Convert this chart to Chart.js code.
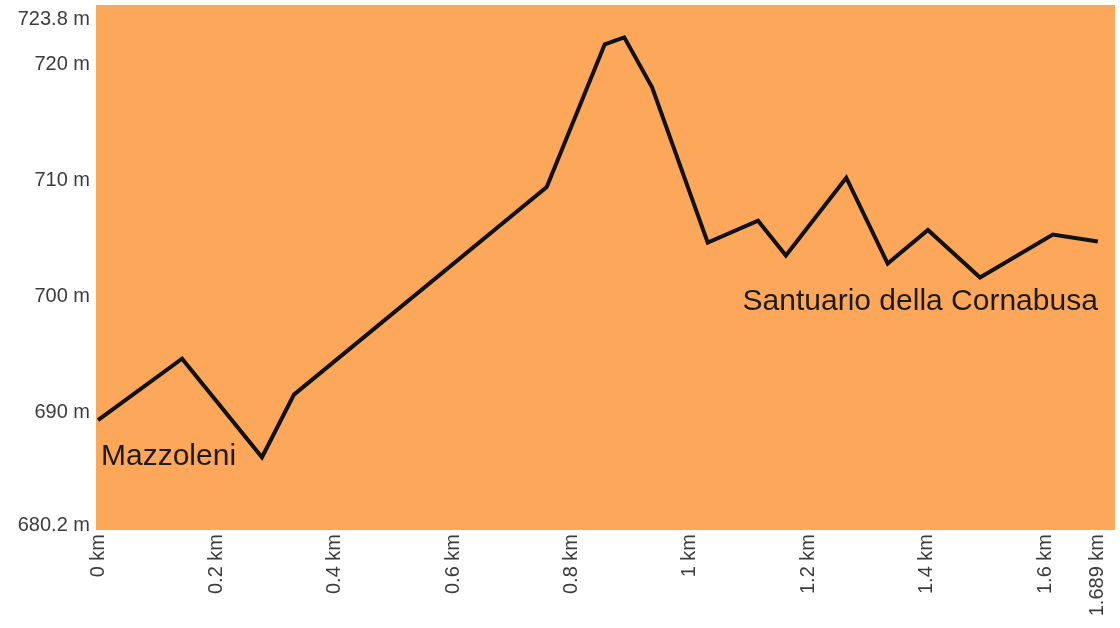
<!DOCTYPE html>
<html>
<head>
<meta charset="utf-8">
<script src="https://cdn.jsdelivr.net/npm/chart.js@4.4.1/dist/chart.umd.min.js"></script>
<style>
  html, body { margin: 0; padding: 0; background: #fff; }
  #wrap { width: 1120px; height: 628px; }
</style>
</head>
<body>
<div id="wrap"><canvas id="profile"></canvas></div>
<script>
// elevation profile, distance in km, elevation in m
const distKm = [0, 0.142, 0.277, 0.331, 0.758, 0.856, 0.889, 0.936, 1.030, 1.115, 1.162, 1.264, 1.334, 1.402, 1.490, 1.613, 1.689];
const elevM  = [689.3, 694.6, 686.1, 691.5, 709.4, 721.7, 722.3, 718.0, 704.6, 706.5, 703.5, 710.2, 702.8, 705.7, 701.6, 705.3, 704.7];

const xTicks = [0, 0.2, 0.4, 0.6, 0.8, 1, 1.2, 1.4, 1.6, 1.689];
const yTicks = [680.2, 690, 700, 710, 720, 723.8];

// start / end place names
const placeNames = ["Mazzoleni", "Santuario della Cornabusa"];
const placeKm    = [0, 1.689];
const placeElev  = [685.4, 698.8];
const placeAlign = ["left", "right"];

const points = distKm.map(function(d, i) { return { x: d, y: elevM[i] }; });

// orange plot background
const plotBg = {
  id: 'plotBg',
  beforeDraw: function(chart) {
    const a = chart.chartArea;
    const ctx = chart.ctx;
    ctx.save();
    ctx.fillStyle = '#fda75b';
    ctx.fillRect(a.left, a.top, a.right - a.left, a.bottom - a.top);
    ctx.restore();
  }
};

// place name labels
const placeLabels = {
  id: 'placeLabels',
  afterDatasetsDraw: function(chart) {
    const ctx = chart.ctx;
    const xs = chart.scales.x, ys = chart.scales.y;
    ctx.save();
    ctx.font = '30px "Liberation Sans", Arial, sans-serif';
    ctx.fillStyle = '#1e1a16';
    ctx.textBaseline = 'alphabetic';
    placeNames.forEach(function(name, i) {
      ctx.textAlign = placeAlign[i];
      const px = xs.getPixelForValue(placeKm[i]) + (placeAlign[i] === 'left' ? 3 : 0);
      ctx.fillText(name, px, ys.getPixelForValue(placeElev[i]));
    });
    ctx.restore();
  }
};

new Chart(document.getElementById('profile'), {
  type: 'line',
  data: {
    datasets: [{
      data: points,
      borderColor: '#111',
      borderWidth: 4,
      borderJoinStyle: 'miter',
      pointRadius: 0,
      tension: 0,
      fill: false
    }]
  },
  options: {
    responsive: true,
    maintainAspectRatio: false,
    animation: false,
    layout: { padding: { top: 5, right: 5, left: 0, bottom: 0 } },
    plugins: { legend: { display: false }, tooltip: { enabled: false } },
    scales: {
      x: {
        type: 'linear',
        min: -0.0034,
        max: 1.718,
        grid: { display: false, drawTicks: false, tickLength: 0 },
        border: { display: false },
        afterBuildTicks: function(scale) {
          scale.ticks = xTicks.map(function(v) { return { value: v }; });
        },
        afterFit: function(scale) {
          scale.height = 98;
          scale.paddingLeft = 0;
          scale.paddingRight = 0;
        },
        ticks: {
          autoSkip: false,
          minRotation: 90,
          maxRotation: 90,
          padding: 4,
          color: '#3c3c3c',
          font: { family: '"Liberation Sans", Arial, sans-serif', size: 20 },
          callback: function(v) { return v + ' km'; }
        }
      },
      y: {
        min: 679.83,
        max: 725.09,
        grid: { display: false, drawTicks: false, tickLength: 0 },
        border: { display: false },
        afterBuildTicks: function(scale) {
          scale.ticks = yTicks.map(function(v) { return { value: v }; });
        },
        afterFit: function(scale) {
          scale.width = 96;
          scale.paddingTop = 0;
          scale.paddingBottom = 0;
        },
        ticks: {
          autoSkip: false,
          padding: 6,
          color: '#3c3c3c',
          font: { family: '"Liberation Sans", Arial, sans-serif', size: 20 },
          callback: function(v) { return v + ' m'; }
        }
      }
    }
  },
  plugins: [plotBg, placeLabels]
});
</script>
</body>
</html>
